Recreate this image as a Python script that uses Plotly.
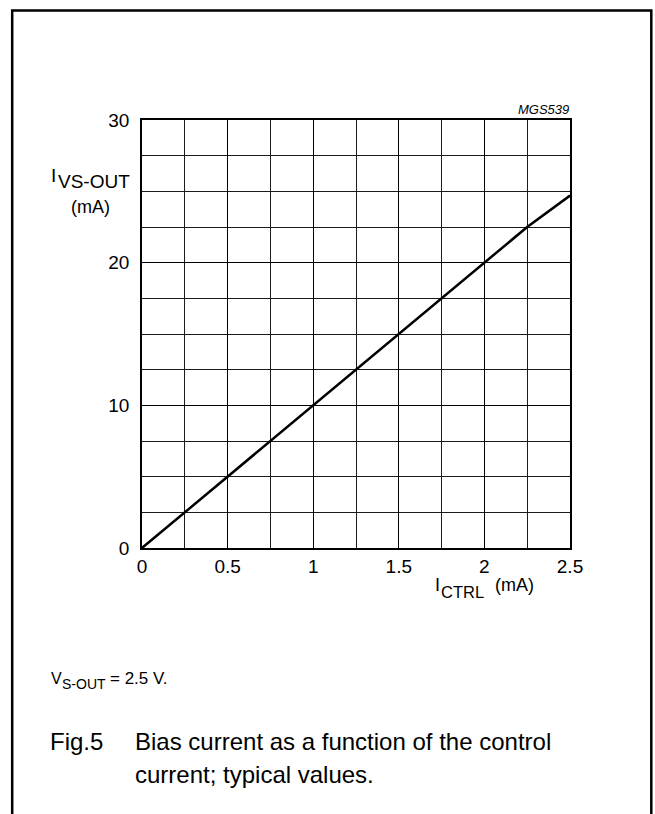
import plotly.graph_objects as go

# ---- data ----
i_ctrl = [0.0, 0.5, 1.0, 1.5, 2.0, 2.25, 2.5]          # mA
i_vs_out = [0.0, 5.0, 10.0, 15.0, 20.0, 22.5, 24.7]     # mA

x_tick_vals = [0, 0.5, 1, 1.5, 2, 2.5]
x_tick_text = ["0", "0.5", "1", "1.5", "2", "2.5"]
y_tick_vals = [0, 10, 20, 30]
y_tick_text = ["0", "10", "20", "30"]

FONT = "Arial, Liberation Sans, Helvetica, sans-serif"
W, H = 655, 814
L, R, T, B = 142, 570, 120, 548   # plot area in pixels

def px(x):
    return (x - L) / (R - L)

def py(y):
    return (B - y) / (B - T)

fig = go.Figure()
fig.add_trace(go.Scatter(
    x=i_ctrl, y=i_vs_out, mode="lines",
    line=dict(color="black", width=2.5),
    showlegend=False, hoverinfo="skip",
))

axis_common = dict(
    showline=True, linecolor="black", linewidth=1.5, mirror=True,
    showgrid=True, gridcolor="black", gridwidth=1,
    zeroline=False, ticks="",
    tickfont=dict(family=FONT, size=19, color="black"),
    fixedrange=True,
)

fig.update_xaxes(
    range=[0, 2.5], tickmode="array", tickvals=x_tick_vals, ticktext=x_tick_text,
    minor=dict(dtick=0.25, tick0=0, showgrid=True, gridcolor="#1a1a1a", gridwidth=1, ticks=""),
    ticklabelstandoff=0,
    **axis_common,
)
fig.update_yaxes(
    range=[0, 30], tickmode="array", tickvals=y_tick_vals, ticktext=y_tick_text,
    minor=dict(dtick=2.5, tick0=0, showgrid=True, gridcolor="#1a1a1a", gridwidth=1, ticks=""),
    ticklabelstandoff=7,
    **axis_common,
)

ann = []
def add_text(text, x, y, size, xanchor="left", yanchor="middle", italic=False):
    ann.append(dict(
        text=text, x=px(x), y=py(y), xref="paper", yref="paper",
        xanchor=xanchor, yanchor=yanchor, showarrow=False,
        font=dict(family=FONT, size=size, color="black",
                  style="italic" if italic else "normal"),
    ))

# figure code
add_text("MGS539", 571, 109, 13, xanchor="right", italic=True)
# y axis title
add_text("I", 49, 175, 19)
add_text("VS-OUT", 55.5, 181, 19)
add_text("(mA)", 69, 207, 18)
# x axis title
add_text("I", 433, 585, 18)
add_text("CTRL", 439, 592, 16.5)
add_text("(mA)", 493, 585, 18)
# footnote
add_text("V", 49, 678, 16)
add_text("S-OUT", 60, 684, 14)
add_text("= 2.5 V.", 108, 678, 17)
# caption
add_text("Fig.5", 48, 741, 24)
add_text("Bias current as a function of the control", 133, 741, 24)
add_text("current; typical values.", 133, 774, 24)

fig.update_layout(
    width=W, height=H,
    margin=dict(l=L, r=W - R, t=T, b=H - B, pad=0),
    paper_bgcolor="white", plot_bgcolor="white",
    annotations=ann,
    shapes=[dict(
        type="rect", xref="paper", yref="paper",
        x0=px(12.2), x1=px(651.3), y0=py(840), y1=py(10.5),
        line=dict(color="black", width=2.5), fillcolor="rgba(0,0,0,0)",
        layer="above",
    )],
)

fig.write_html("out.html", config={"displayModeBar": False},
               post_script="document.body.style.margin='0';")
